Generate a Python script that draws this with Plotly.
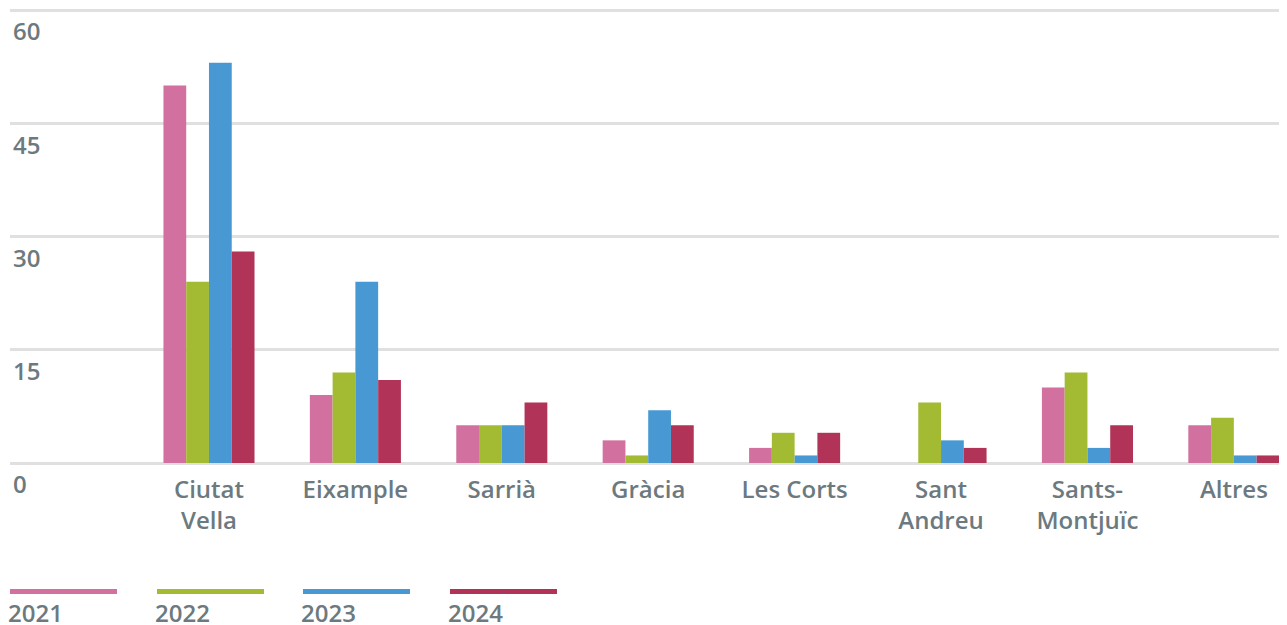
import plotly.graph_objects as go

categories = ["Ciutat<br>Vella", "Eixample", "Sarrià", "Gràcia", "Les Corts",
              "Sant<br>Andreu", "Sants-<br>Montjuïc", "Altres"]
years = ["2021", "2022", "2023", "2024"]
v2021 = [50, 9, 5, 3, 2, 0, 10, 5]
v2022 = [24, 12, 5, 1, 4, 8, 12, 6]
v2023 = [53, 24, 5, 7, 1, 3, 2, 1]
v2024 = [28, 11, 8, 5, 4, 2, 5, 1]
colors = ["#d271a0", "#a2bb33", "#4899d3", "#b13357"]
y_ticks = [0, 15, 30, 45, 60]

OFF = 8  # page body margin
W, H = 1287 - OFF, 625 - OFF
L, R, T, B = 2, 0, 0, 120
text_color = "#6c7a80"
font_family = "Open Sans"
fs = 24

plot_w = W - L - R
plot_h = H - T - B
ppu = 453 / 60.0               # pixels per unit
zero_fig = 463 - OFF           # y pixel (figure) of value 0
y_top = 60 + 2.0 / ppu
y_bot = -(plot_h - zero_fig) / ppu
xaxis_pos = (plot_h - (zero_fig + 2)) / plot_h

fig = go.Figure()
for name, vals, c in zip(years, [v2021, v2022, v2023, v2024], colors):
    fig.add_trace(go.Bar(x=categories, y=vals, name=name, marker=dict(color=c, line=dict(width=0)),
                         showlegend=False))

fig.update_layout(
    width=W, height=H,
    margin=dict(l=L, r=R, t=T, b=B, pad=0),
    plot_bgcolor="white", paper_bgcolor="white",
    barmode="group", bargap=0.378, bargroupgap=0,
    font=dict(family=font_family, color=text_color, size=fs, weight=600),
    xaxis=dict(range=[-1.359, 7.363], showgrid=False, showline=False, ticks="",
               anchor="free", position=xaxis_pos,
               tickfont=dict(size=fs, color=text_color, weight=600), ticklabelstandoff=8),
    yaxis=dict(range=[y_bot, y_top], tickvals=y_ticks, ticktext=[str(v) for v in y_ticks],
               showgrid=True, gridcolor="rgba(0,0,0,0.12)", gridwidth=3,
               zeroline=False, showline=False, ticks="",
               ticklabelposition="inside", ticklabelshift=22,
               tickfont=dict(size=fs, color=text_color, weight=600),
               layer="above traces"),
)

# custom legend below the chart
def px_x(px):
    return (px - OFF - L) / plot_w
def px_y(py):
    return (H - B - (py - OFF)) / plot_h

starts = [10, 157, 303, 450]
for s, name, c in zip(starts, years, colors):
    fig.add_shape(type="line", xref="paper", yref="paper",
                  x0=px_x(s), x1=px_x(s + 107), y0=px_y(591.5), y1=px_y(591.5),
                  line=dict(color=c, width=5))
    fig.add_annotation(xref="paper", yref="paper", x=px_x(s) - 0.003, y=px_y(612),
                       text=name, showarrow=False, xanchor="left", yanchor="middle",
                       font=dict(size=fs, color=text_color, family=font_family, weight=600))

fig.write_html("out.html")
